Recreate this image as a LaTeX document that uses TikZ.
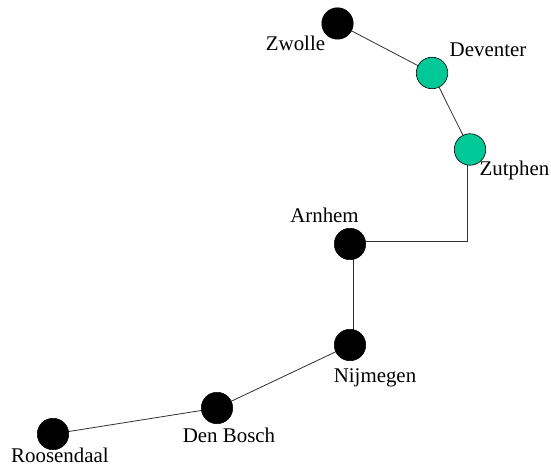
\documentclass[tikz,border=0pt]{standalone}
\usepackage{fontspec}
\setmainfont{Liberation Serif}
\definecolor{teal1}{RGB}{0,200,150}
\definecolor{linegray}{RGB}{50,50,50}
\tikzset{
  stationb/.style={circle,draw=black,fill=black,line width=0.5pt,minimum size=31.5pt,inner sep=0pt},
  stationg/.style={circle,draw=black,fill=teal1,line width=0.6pt,minimum size=31.5pt,inner sep=0pt},
  lbl/.style={font=\fontsize{20.9}{23}\selectfont,inner sep=0pt,text=black},
  conn/.style={draw=linegray,line width=0.8pt}
}
\begin{document}
\begin{tikzpicture}[x=1pt,y=-1pt]
\useasboundingbox[fill=white] (0,0) rectangle (551,465);
\coordinate (zwc) at (337.5,23.5);
\coordinate (dec) at (432,73);
\coordinate (zuc) at (470,149.5);
\coordinate (arc) at (350,244);
\coordinate (nic) at (350,345);
\coordinate (dbc) at (217,408);
\coordinate (roc) at (53,434);
\coordinate (bend) at (467,241);
\coordinate (zut) at (467,150);
\coordinate (art) at (350,241);
\coordinate (arv) at (353,244);
\coordinate (niv) at (353,345);
\draw[conn] (zwc) -- (dec);
\draw[conn] (dec) -- (zuc);
\draw[conn] (zut) -- (bend) -- (art);
\draw[conn] (arv) -- (niv);
\draw[conn] (nic) -- (dbc);
\draw[conn] (dbc) -- (roc);
\node[stationb] (zw) at (zwc) {};
\node[stationg] (de) at (dec) {};
\node[stationg] (zu) at (zuc) {};
\node[stationb] (ar) at (arc) {};
\node[stationb] (ni) at (nic) {};
\node[stationb] (db) at (dbc) {};
\node[stationb] (ro) at (roc) {};
\node[lbl] (t1) at (295.5,43.5) {Zwolle};
\node[lbl] (t2) at (488,50) {Deventer};
\node[lbl] (t3) at (514.5,170.5) {Zutphen};
\node[lbl] (t4) at (324.5,215) {Arnhem};
\node[lbl] (t5) at (375,378) {Nijmegen};
\node[lbl] (t6) at (229,435) {Den Bosch};
\node[lbl] (t7) at (60,455) {Roosendaal};
\end{tikzpicture}
\end{document}
